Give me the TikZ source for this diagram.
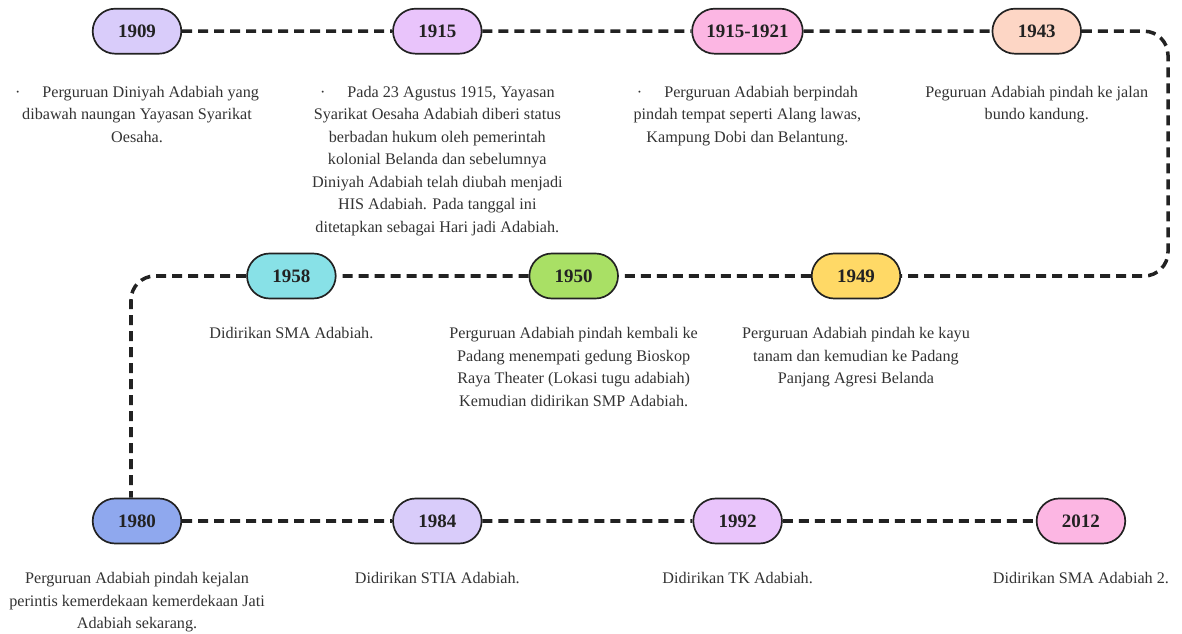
\documentclass[tikz,border=0pt]{standalone}
\usepackage{fontspec}
\setmainfont{Liberation Serif}
\usepackage{tikz}
\usetikzlibrary{shapes.misc, positioning}
\definecolor{adaLavender}{HTML}{D9CCFA}
\definecolor{adaViolet}{HTML}{E9C4FB}
\definecolor{adaPink}{HTML}{FCB6E3}
\definecolor{adaPeach}{HTML}{FDD6C5}
\definecolor{adaCyan}{HTML}{88E1E7}
\definecolor{adaGreen}{HTML}{A9E065}
\definecolor{adaYellow}{HTML}{FFD966}
\definecolor{adaBlue}{HTML}{8FA8EE}
\definecolor{adaInk}{HTML}{222222}
\definecolor{adaText}{HTML}{333333}

\begin{document}
\begin{tikzpicture}[
  yr/.style={rounded rectangle, draw=adaInk, line width=1.2pt,
             minimum width=2.45cm, minimum height=1.125cm,
             font=\fontsize{13.5}{15}\selectfont\bfseries, text=adaInk},
  desc/.style={inner sep=0pt, align=center, text=adaText,
               font=\fontsize{11.5}{16}\selectfont},
  tl/.style={adaInk, line width=2.5pt, dash pattern=on 0.25cm off 0.15cm,
             rounded corners=0.6cm},
]
  \useasboundingbox (0,0) rectangle (29.55,-15.85);

  % Row 1
  \node[yr, fill=adaLavender] (y1909) at (3.425,-0.78) {1909};
  \node[yr, fill=adaViolet, right=5.25cm of y1909] (y1915) {1915};
  \node[yr, fill=adaPink, minimum width=3.0cm, right=5.22cm of y1915] (y1921) {1915-1921};
  \node[yr, fill=adaPeach, right=4.7cm of y1921] (y1943) {1943};

  % Row 2
  \node[yr, fill=adaYellow] (y1949) at (21.4,-6.9) {1949};
  \node[yr, fill=adaGreen, left=4.8cm of y1949] (y1950) {1950};
  \node[yr, fill=adaCyan, left=4.8cm of y1950] (y1958) {1958};

  % Row 3
  \node[yr, fill=adaBlue] (y1980) at (3.425,-13.025) {1980};
  \node[yr, fill=adaLavender, right=5.25cm of y1980] (y1984) {1984};
  \node[yr, fill=adaViolet, right=5.25cm of y1984] (y1992) {1992};
  \node[yr, fill=adaPink, right=6.325cm of y1992] (y2012) {2012};

  % Descriptions
  \node[desc, below=0.78cm of y1909] (d1909) {·\hspace{0.55cm}Perguruan Diniyah Adabiah yang\\dibawah naungan Yayasan Syarikat\\Oesaha.};
  \node[desc, below=0.78cm of y1915] (d1915) {·\hspace{0.55cm}Pada 23 Agustus 1915, Yayasan\\Syarikat Oesaha Adabiah diberi status\\berbadan hukum oleh pemerintah\\kolonial Belanda dan sebelumnya\\Diniyah Adabiah telah diubah menjadi\\HIS Adabiah. Pada tanggal ini\\ditetapkan sebagai Hari jadi Adabiah.};
  \node[desc, below=0.78cm of y1921] (d1921) {·\hspace{0.55cm}Perguruan Adabiah berpindah\\pindah tempat seperti Alang lawas,\\Kampung Dobi dan Belantung.};
  \node[desc, below=0.78cm of y1943] (d1943) {Peguruan Adabiah pindah ke jalan\\bundo kandung.};
  \node[desc, below=0.7cm of y1958] (d1958) {Didirikan SMA Adabiah.};
  \node[desc, below=0.7cm of y1950] (d1950) {Perguruan Adabiah pindah kembali ke\\Padang menempati gedung Bioskop\\Raya Theater (Lokasi tugu adabiah)\\Kemudian didirikan SMP Adabiah.};
  \node[desc, below=0.7cm of y1949] (d1949) {Perguruan Adabiah pindah ke kayu\\tanam dan kemudian ke Padang\\Panjang Agresi Belanda};
  \node[desc, below=0.7cm of y1980] (d1980) {Perguruan Adabiah pindah kejalan\\perintis kemerdekaan kemerdekaan Jati\\Adabiah sekarang.};
  \node[desc, below=0.7cm of y1984] (d1984) {Didirikan STIA Adabiah.};
  \node[desc, below=0.7cm of y1992] (d1992) {Didirikan TK Adabiah.};
  \node[desc, below=0.7cm of y2012] (d2012) {Didirikan SMA Adabiah 2.};

  % Timeline
  \coordinate (turnR) at (29.2,-3.8);
  \coordinate (turnL) at (3.275,-10);
  \draw[tl] (y1909) -- (y1915);
  \draw[tl] (y1915) -- (y1921);
  \draw[tl] (y1921) -- (y1943);
  \draw[tl] (y1943) -| (turnR) |- (y1949);
  \draw[tl] (y1949) -- (y1950);
  \draw[tl] (y1950) -- (y1958);
  \draw[tl] (y1958) -| (turnL) -- (turnL |- y1980.north);
  \draw[tl] (y1980) -- (y1984);
  \draw[tl] (y1984) -- (y1992);
  \draw[tl] (y1992) -- (y2012);
\end{tikzpicture}
\end{document}
